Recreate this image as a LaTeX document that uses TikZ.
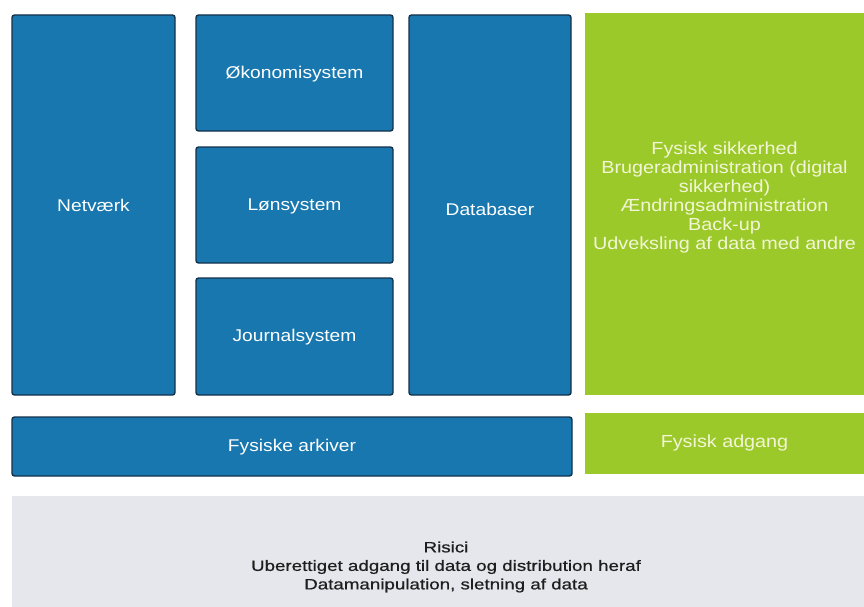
\documentclass[tikz,border=0pt]{standalone}
\usepackage{fontspec}
\setmainfont{Liberation Sans}[FakeStretch=1.13]
\newfontfamily\riskfont{Liberation Sans}[FakeStretch=1.25,FakeBold=0.6]
\definecolor{boxblue}{HTML}{1877AE}
\definecolor{boxedge}{HTML}{14324C}
\definecolor{boxgreen}{HTML}{9CC92A}
\definecolor{greentext}{HTML}{F2F6D6}
\definecolor{riskgray}{HTML}{E6E7EC}
\definecolor{risktext}{HTML}{1E1E1E}
\begin{document}
\begin{tikzpicture}[x=1pt,y=-1pt,
  bluebox/.style={fill=boxblue,draw=boxedge,line width=1.4pt,rounded corners=2.5pt},
  bluetext/.style={text=white,font=\fontsize{17}{20}\selectfont},
  greentxt/.style={text=greentext,align=center,font=\fontsize{17.5}{19}\selectfont},
  risktxt/.style={text=risktext,align=center,font=\riskfont\fontsize{15}{18.5}\selectfont}]
\useasboundingbox (0,0) rectangle (864,607);
\fill[white] (0,0) rectangle (864,607);
% blue boxes
\draw[bluebox] (12,15) rectangle (175,395);
\node[bluetext] (netv) at (93.5,205) {Netværk};
\draw[bluebox] (196,15) rectangle (393,131);
\node[bluetext] (oko) at (294.5,74) {Økonomisystem};
\draw[bluebox] (196,147) rectangle (393,263);
\node[bluetext] (lon) at (294.5,206) {Lønsystem};
\draw[bluebox] (196,278) rectangle (393,395);
\node[bluetext] (jour) at (294.5,337) {Journalsystem};
\draw[bluebox] (409,15) rectangle (571,395);
\node[bluetext] (db) at (490,209) {Databaser};
\draw[bluebox] (12,417) rectangle (572,476);
\node[bluetext] (arkiv) at (292,447) {Fysiske arkiver};
% green boxes
\fill[boxgreen] (585,13) rectangle (864,395);
\node[greentxt] (sikker) at (724.5,197) {Fysisk sikkerhed\\Brugeradministration (digital\\sikkerhed)\\Ændringsadministration\\Back-up\\Udveksling af data med andre};
\fill[boxgreen] (585,413) rectangle (864,474);
\node[greentxt] (adgang) at (724.5,443) {Fysisk adgang};
% risk box
\fill[riskgray] (12,496) rectangle (864,607);
\node[risktxt] (risici) at (446,567) {Risici\\Uberettiget adgang til data og distribution heraf\\Datamanipulation, sletning af data};
\end{tikzpicture}
\end{document}
